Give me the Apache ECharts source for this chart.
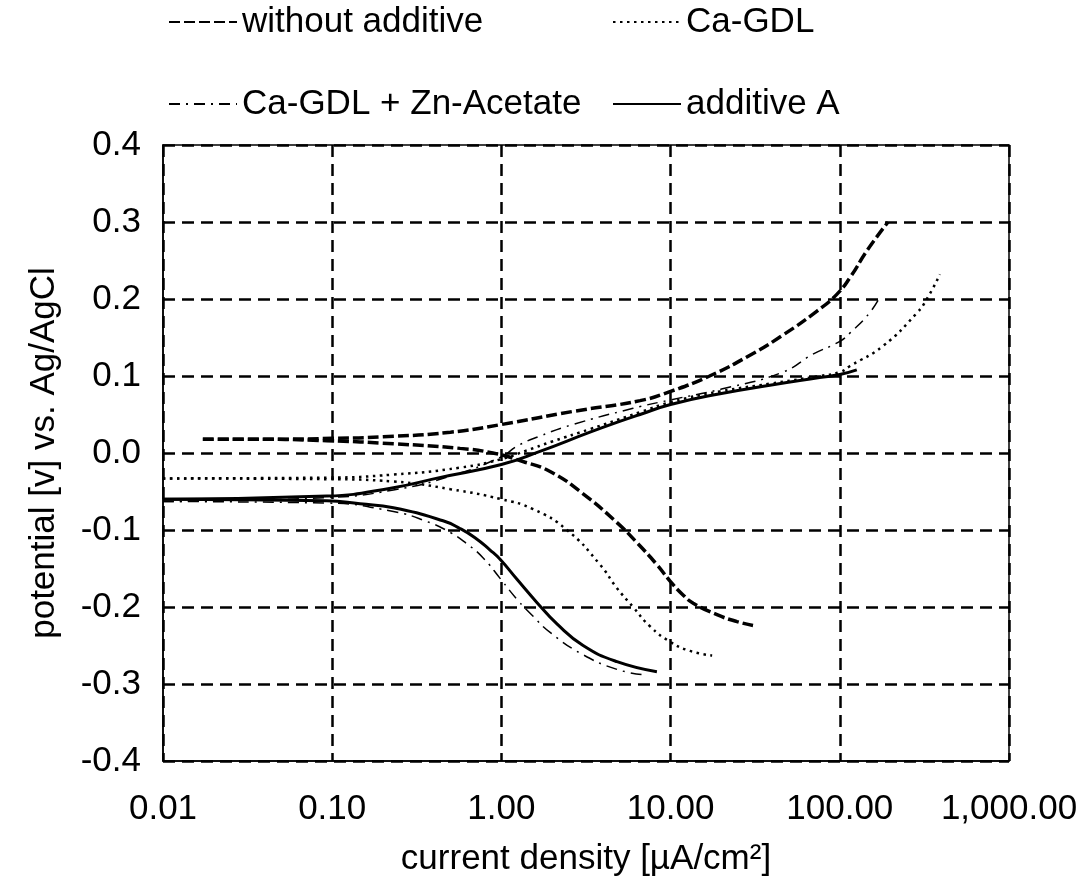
<!DOCTYPE html>
<html>
<head>
<meta charset="utf-8">
<script src="https://cdn.jsdelivr.net/npm/echarts@6/dist/echarts.min.js"></script>
<style>
  html, body { margin: 0; padding: 0; background: #fff; }
  #chart { width: 1087px; height: 890px; }
</style>
</head>
<body>
<div id="chart"></div>
<script>
const xTickLabels = ['0.01', '0.10', '1.00', '10.00', '100.00', '1,000.00'];
const yTickLabels = ['-0.4', '-0.3', '-0.2', '-0.1', '0.0', '0.1', '0.2', '0.3', '0.4'];
const seriesNames = ['without additive', 'Ca-GDL', 'Ca-GDL + Zn-Acetate', 'additive A'];

// without additive (dashed)
const withoutAdditiveCathodicX = [0.0172, 0.03, 0.093, 0.23, 0.57, 0.89, 1.34, 1.94, 3.0, 4.8, 6.3, 8.3, 9.9, 11.8, 13.6, 18.8, 24.7, 30.7];
const withoutAdditiveCathodicY = [0.018, 0.018, 0.016, 0.012, 0.006, 0.000, -0.011, -0.024, -0.052, -0.090, -0.116, -0.145, -0.166, -0.184, -0.195, -0.210, -0.219, -0.224];
const withoutAdditiveAnodicX = [0.0172, 0.05, 0.1, 0.2, 0.5, 1.0, 2.65, 6.6, 10, 17, 30, 46, 73, 96, 115, 145, 193];
const withoutAdditiveAnodicY = [0.018, 0.018, 0.019, 0.021, 0.027, 0.037, 0.054, 0.068, 0.080, 0.100, 0.128, 0.153, 0.184, 0.206, 0.228, 0.263, 0.300];

// Ca-GDL (dotted)
const caGdlCathodicX = [0.01, 0.093, 0.23, 0.5, 1.0, 1.54, 2.44, 3.83, 4.8, 6.0, 7.55, 9.9, 13.0, 17.6];
const caGdlCathodicY = [-0.033, -0.034, -0.037, -0.047, -0.060, -0.073, -0.100, -0.145, -0.175, -0.200, -0.225, -0.245, -0.257, -0.263];
const caGdlAnodicX = [0.01, 0.093, 0.23, 0.57, 1.0, 1.4, 2.0, 3.34, 6.6, 10, 19.6, 38.6, 76, 100, 115, 180, 286, 327, 391];
const caGdlAnodicY = [-0.033, -0.032, -0.028, -0.019, -0.008, 0.003, 0.015, 0.031, 0.053, 0.066, 0.080, 0.090, 0.100, 0.105, 0.113, 0.139, 0.182, 0.200, 0.232];

// Ca-GDL + Zn-Acetate (dash-dot)
const caGdlZnCathodicX = [0.01, 0.093, 0.23, 0.363, 0.497, 0.618, 0.778, 0.992, 1.236, 1.54, 1.94, 3.04, 4.82, 6.87];
const caGdlZnCathodicY = [-0.063, -0.065, -0.076, -0.089, -0.103, -0.117, -0.136, -0.164, -0.190, -0.212, -0.233, -0.262, -0.281, -0.288];
const caGdlZnAnodicX = [0.01, 0.093, 0.23, 0.5, 1.0, 1.24, 1.69, 2.65, 6.0, 10, 20, 46, 69, 100, 115, 150, 174];
const caGdlZnAnodicY = [-0.063, -0.058, -0.048, -0.030, -0.005, 0.009, 0.022, 0.037, 0.058, 0.069, 0.083, 0.105, 0.128, 0.145, 0.156, 0.182, 0.204];

// additive A (solid)
const additiveACathodicX = [0.01, 0.093, 0.146, 0.23, 0.452, 0.569, 0.698, 0.857, 0.982, 1.236, 1.62, 2.13, 3.04, 4.82, 8.3];
const additiveACathodicY = [-0.060, -0.062, -0.066, -0.071, -0.088, -0.098, -0.110, -0.126, -0.138, -0.164, -0.194, -0.222, -0.250, -0.271, -0.284];
const additiveAAnodicX = [0.01, 0.093, 0.23, 0.43, 1.0, 1.69, 3.34, 5.0, 6.6, 10, 19.6, 38.6, 76, 100, 126];
const additiveAAnodicY = [-0.060, -0.056, -0.045, -0.032, -0.015, 0.002, 0.027, 0.041, 0.050, 0.063, 0.077, 0.088, 0.098, 0.102, 0.108];

function zip(xs, ys) { return xs.map((x, i) => [x, ys[i]]); }

const FONT = '"Liberation Sans", Arial, sans-serif';
const chart = echarts.init(document.getElementById('chart'), null, { renderer: 'canvas' });

const styles = [
  { width: 3.5, type: [11, 4] },
  { width: 2.5, type: [2.5, 4.5] },
  { width: 1.5, type: [11, 6, 2, 6] },
  { width: 3, type: 'solid' }
];
const branches = [
  [zip(withoutAdditiveCathodicX, withoutAdditiveCathodicY), zip(withoutAdditiveAnodicX, withoutAdditiveAnodicY)],
  [zip(caGdlCathodicX, caGdlCathodicY), zip(caGdlAnodicX, caGdlAnodicY)],
  [zip(caGdlZnCathodicX, caGdlZnCathodicY), zip(caGdlZnAnodicX, caGdlZnAnodicY)],
  [zip(additiveACathodicX, additiveACathodicY), zip(additiveAAnodicX, additiveAAnodicY)]
];

const legendPos = [
  { left: 168, top: 4 },
  { left: 612, top: 4 },
  { left: 168, top: 86 },
  { left: 612, top: 86 }
];

const series = [];
seriesNames.forEach((n, i) => {
  branches[i].forEach(d => {
    series.push({
      name: n,
      type: 'line',
      data: d,
      showSymbol: false,
      symbol: 'none',
      smooth: 0.5,
      lineStyle: { color: '#000', width: styles[i].width, type: styles[i].type },
      itemStyle: { color: '#000' },
      z: 3
    });
  });
});

const option = {
  animation: false,
  backgroundColor: '#fff',
  textStyle: { fontFamily: FONT },
  legend: legendPos.map((p, i) => ({
    data: [seriesNames[i]],
    left: p.left,
    top: p.top,
    padding: 0,
    itemWidth: 68,
    itemHeight: 20,
    itemStyle: { opacity: 0 },
    textStyle: { fontFamily: FONT, fontSize: 35, color: '#000', lineHeight: 36 },
    selectedMode: false
  })),
  grid: { left: 163, right: 78, top: 145, bottom: 129, show: true, borderColor: '#000', borderWidth: 1.5, backgroundColor: 'transparent' },
  xAxis: {
    type: 'log',
    logBase: 10,
    min: 0.01,
    max: 1000,
    name: 'current density [µA/cm²]',
    nameLocation: 'middle',
    nameGap: 81,
    nameTextStyle: { fontFamily: FONT, fontSize: 35, color: '#000' },
    axisLine: { show: true, onZero: false, lineStyle: { color: '#000', width: 1.5 } },
    axisTick: { show: false },
    minorTick: { show: false },
    axisLabel: {
      fontFamily: FONT, fontSize: 35, color: '#000', margin: 31,
      formatter: (v, i) => xTickLabels[i]
    },
    splitLine: { show: true, lineStyle: { color: '#000', width: 2.5, type: [12, 7] } }
  },
  yAxis: {
    type: 'value',
    min: -0.4,
    max: 0.4,
    interval: 0.1,
    name: 'potential [v] vs. Ag/AgCl',
    nameLocation: 'middle',
    nameGap: 101,
    nameRotate: 90,
    nameTextStyle: { fontFamily: FONT, fontSize: 35, color: '#000' },
    axisLine: { show: true, onZero: false, lineStyle: { color: '#000', width: 1.5 } },
    axisTick: { show: false },
    axisLabel: {
      fontFamily: FONT, fontSize: 35, color: '#000', margin: 22,
      formatter: (v, i) => yTickLabels[i]
    },
    splitLine: { show: true, lineStyle: { color: '#000', width: 2.5, type: [12, 7] } }
  },
  series: series
};
chart.setOption(option);
</script>
</body>
</html>
